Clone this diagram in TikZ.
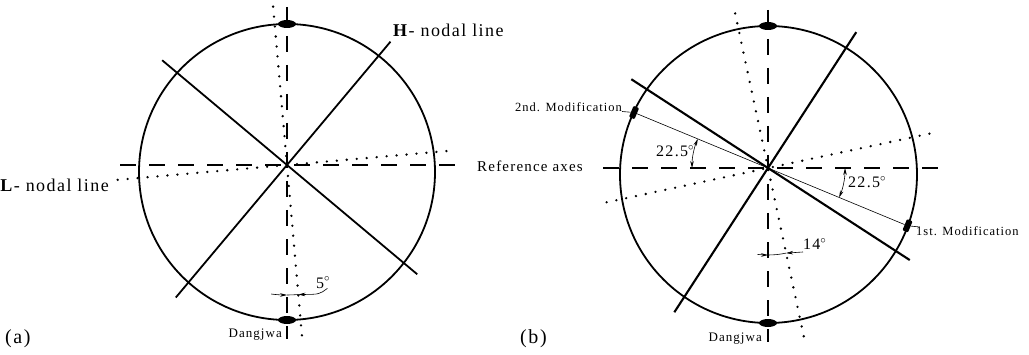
\documentclass[tikz,border=0pt]{standalone}
\usepackage{fontspec}
\setmainfont{Liberation Serif}
\newfontfamily\spacedfont[LetterSpace=8]{Liberation Serif}
\usepackage{tikz}
\usetikzlibrary{calc,positioning,arrows.meta}

\begin{document}
\begin{tikzpicture}[
    x=1pt, y=1pt,
    rim/.style={line width=1.8pt},
    nodal/.style={line width=1.8pt},
    refaxis/.style={line width=1.2pt, dash pattern=on 16pt off 13pt},
    dotline/.style={line width=2.6pt, line cap=round, dash pattern=on 0pt off 10pt},
    thinline/.style={line width=0.6pt},
    dim/.style={-{Stealth[length=7pt,width=3.5pt]}, line width=0.6pt},
    dimboth/.style={{Stealth[length=7pt,width=3.5pt]}-{Stealth[length=7pt,width=3.5pt]}, line width=0.6pt},
    marker/.style={rectangle, fill, inner sep=0pt, minimum width=6pt, minimum height=12pt, rounded corners=1pt, rotate=-22.5},
    lbl/.style={font=\spacedfont\fontsize{18}{20}\selectfont, inner sep=0pt},
    small/.style={font=\spacedfont\fontsize{12.5}{14}\selectfont, inner sep=0pt},
    angle/.style={font=\spacedfont\fontsize{16}{18}\selectfont, inner sep=0pt}
]
    \useasboundingbox (0,0) rectangle (1029,354);

    % (a) nodal lines of the bell
    \coordinate (A0) at (287,189);
    \coordinate (Ac) at (287,182);
    \draw[rim] (Ac) circle (148pt);
    \fill (287,330) ellipse (9pt and 4pt);
    \fill (287,34) ellipse (9pt and 4pt);
    \draw[refaxis] (120,189) -- (456,189);
    \draw[refaxis] (287,347) -- (287,15);
    \draw[nodal] ($(A0)+(50:161pt)$) -- ($(A0)+(230:173pt)$);
    \draw[nodal] ($(A0)+(140:163pt)$) -- ($(A0)+(-40:170pt)$);
    \draw[dotline] ($(A0)+(185:170pt)$) -- ($(A0)+(5:167pt)$);
    \draw[dotline] ($(A0)+(95:159pt)$) -- ($(A0)+(-85:174pt)$);

    % 5 degree
    \draw[dim] ($(A0)+(263:130pt)$) arc (263:270:130pt);
    \draw[thinline] ($(A0)+(270:130pt)$) arc (270:275:130pt);
    \coordinate (tipA) at ($(A0)+(275:130pt)$);
    \node[angle, anchor=base west] (degA) at (316,66) {5\textsuperscript{$\circ$}};
    \draw[dim] ([xshift=-3pt]degA.south east) .. controls +(-8,-6) .. (tipA);

    \node[lbl, anchor=base west] (hline) at (393,317) {\textbf{H}- nodal line};
    \node[lbl, anchor=base east] (lline) at (109,162) {\textbf{L}- nodal line};
    \node[small, font=\spacedfont\fontsize{13}{15}\selectfont, anchor=base east] (dangA) at (282,17) {Dangjwa};
    \node[lbl, font=\spacedfont\fontsize{20}{22}\selectfont, anchor=base west] (capA) at (5,11) {(a)};

    % (b) after the modifications
    \coordinate (B0) at (768,186);
    \coordinate (Bc) at (768.5,179.5);
    \draw[rim] (Bc) circle (148.5pt);
    \fill (768,328) ellipse (9pt and 4pt);
    \fill (768,31) ellipse (9pt and 4pt);
    \draw[refaxis] (603,186) -- (938,186);
    \draw[refaxis] (768,344) -- (768,12);
    \draw[nodal, line width=2.1pt] ($(B0)+(57:162pt)$) -- ($(B0)+(237:172pt)$);
    \draw[nodal, line width=2.1pt] ($(B0)+(147:163pt)$) -- ($(B0)+(-33:169pt)$);
    \draw[dotline] ($(B0)+(102:158pt)$) -- ($(B0)+(282:173pt)$);
    \draw[dotline] ($(B0)+(192:165pt)$) -- ($(B0)+(12:169pt)$);

    % Modifications
    \node[marker] (mod2) at ($(B0)+(157.5:145pt)$) {};
    \node[marker] (mod1) at ($(B0)+(-22.5:151pt)$) {};
    \draw[thinline] (mod2) -- (mod1);
    \node[small, anchor=east] (mod2lbl) at (622,247) {2nd. Modification};
    \node[small, anchor=base west] (mod1lbl) at (916,118) {1st. Modification};
    \draw[thinline] (mod2lbl) -- (mod2);
    \draw[thinline] (mod1) -- (mod1lbl);
    \node[angle, font=\spacedfont\fontsize{15}{17}\selectfont, anchor=base east] (refax) at (583,182) {Reference axes};

    % 22.5 and 14 degree
    \draw[dimboth] ($(B0)+(157.5:76pt)$) arc (157.5:180:76pt);
    \draw[dimboth] ($(B0)+(0:77pt)$) arc (0:-22.5:77pt);
    \node[angle, anchor=base west] (degL) at (656,197) {22.5\textsuperscript{$\circ$}};
    \node[angle, anchor=base west] (degR) at (848,166) {22.5\textsuperscript{$\circ$}};
    \draw[dim] ($(B0)+(263:87pt)$) arc (263:270:87pt);
    \draw[thinline] ($(B0)+(270:87pt)$) arc (270:282:87pt);
    \coordinate (tipB) at ($(B0)+(282:87pt)$);
    \node[angle, anchor=base west] (degB) at (803,104) {14\textsuperscript{$\circ$}};
    \draw[dim] ([yshift=-2pt]degB.base west) -- (tipB);

    \node[small, font=\spacedfont\fontsize{13}{15}\selectfont, anchor=base east] (dangB) at (762,13) {Dangjwa};
    \node[lbl, font=\spacedfont\fontsize{20}{22}\selectfont, anchor=base west] (capB) at (520,11) {(b)};
\end{tikzpicture}
\end{document}
